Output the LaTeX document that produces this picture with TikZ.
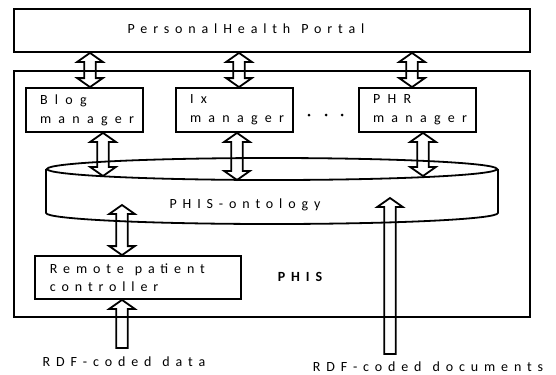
\documentclass[tikz,border=0pt]{standalone}
\usepackage{fontspec}
\setmainfont{Carlito}
\newfontfamily\trackfont{Carlito}[LetterSpace=42]
\newfontfamily\widetrackfont{Carlito}[LetterSpace=52]
\usetikzlibrary{calc,shapes.geometric}

% wider gap between words in tracked text
\newcommand\wsp{\rule{11bp}{0pt}}

% hollow block arrow with heads at both ends: #1 upper tip, #2 lower tip
\newcommand\twoway[2]{%
  \draw[blockarrow] let \p1=(#1), \p2=(#2) in
    (\x1-5.8bp,\y1-9bp) -- (\x1-12.8bp,\y1-9bp) -- (\x1,\y1)
    -- (\x1+12.8bp,\y1-9bp) -- (\x1+5.8bp,\y1-9bp)
    -- (\x1+5.8bp,\y2+9bp) -- (\x1+12.8bp,\y2+9bp) -- (\x1,\y2)
    -- (\x1-12.8bp,\y2+9bp) -- (\x1-5.8bp,\y2+9bp) -- cycle;}
% hollow block arrow pointing up: #1 tail (below), #2 tip (above)
\newcommand\oneway[2]{%
  \draw[blockarrow] let \p1=(#1), \p2=(#2) in
    (\x2-5.8bp,\y1) -- (\x2-5.8bp,\y2-9bp) -- (\x2-12.8bp,\y2-9bp)
    -- (\x2,\y2) -- (\x2+12.8bp,\y2-9bp) -- (\x2+5.8bp,\y2-9bp)
    -- (\x2+5.8bp,\y1) -- cycle;}

\begin{document}
\begin{tikzpicture}[x=1bp,y=-1bp,
  outline/.style={line width=1.8bp},
  box/.style={draw,outline,rectangle,inner sep=0pt},
  lbl/.style={font=\fontsize{14bp}{19bp}\trackfont,inner sep=0pt},
  mgr/.style={box,minimum width=117bp,minimum height=44bp,text width=89bp,
    align=left,inner xsep=14bp,font=\fontsize{14bp}{19bp}\widetrackfont},
  blockarrow/.style={draw,outline,line join=miter},
]
\useasboundingbox (0,0) rectangle (556,374);

% containers
\node[box,minimum width=516bp,minimum height=43bp] (portal) at (272,30.5) {};
\node[lbl] (portaltitle) at (246,29) {PersonalHealth\wsp Portal};
\node[box,minimum width=516bp,minimum height=246bp] (phis) at (272,194) {};

% service managers
\node[mgr] (blog) at (84.5,110) {Blog\\manager};
\node[mgr] (ix)   at (234.5,110) {Ix\\manager};
\node[mgr] (phr)  at (417.5,110) {PHR\\manager};
\foreach \dx in {309,326,342} \fill (\dx,115) circle (1.5bp);

% ontology drum
\node[draw,outline,ellipse,inner sep=0pt,minimum width=450bp,minimum height=22bp] (onto) at (272,169) {};
\draw[outline] (onto.west) -- ++(0,44) coordinate (ll)
  .. controls +(0,6.1) and +(-124.3,0) .. (272,224)
  .. controls +(124.3,0) and +(0,6.1) .. (onto.east |- ll) -- (onto.east);
\node[lbl] (ontolabel) at (245,205) {PHIS-ontology};

% remote controller
\node[box,minimum width=206bp,minimum height=43bp,text width=176bp,align=left,
  inner xsep=15bp,font=\fontsize{14bp}{18bp}\trackfont] (ctrl) at (138,277.5)
  {Remote\wsp patient\\controller};
\node[lbl,font=\fontsize{14bp}{19bp}\trackfont\bfseries] (phislabel) at (300,277) {PHIS};

% inputs
\node[lbl] (datalabel) at (124,362) {RDF-coded\wsp data};
\node[lbl] (doclabel) at (428,367) {RDF-coded\wsp documents};

% arrow columns
\coordinate (a1) at (90,0);
\coordinate (a2) at (239,0);
\coordinate (a3) at (412,0);
\coordinate (b1) at (103,176);
\coordinate (b2) at (237,180);
\coordinate (b3) at (423,176);
\coordinate (r1) at (122,205);
\coordinate (dtail) at (122,348);
\coordinate (doctail) at (390,354);
\coordinate (doctip) at (390,198);

\twoway{a1 |- portal.south}{a1 |- blog.north}
\twoway{a2 |- portal.south}{a2 |- ix.north}
\twoway{a3 |- portal.south}{a3 |- phr.north}
\twoway{b1 |- blog.south}{b1}
\twoway{b2 |- ix.south}{b2}
\twoway{b3 |- phr.south}{b3}
\twoway{r1}{r1 |- ctrl.north}
\oneway{dtail}{dtail |- ctrl.south}
\oneway{doctail}{doctip}
\end{tikzpicture}
\end{document}
